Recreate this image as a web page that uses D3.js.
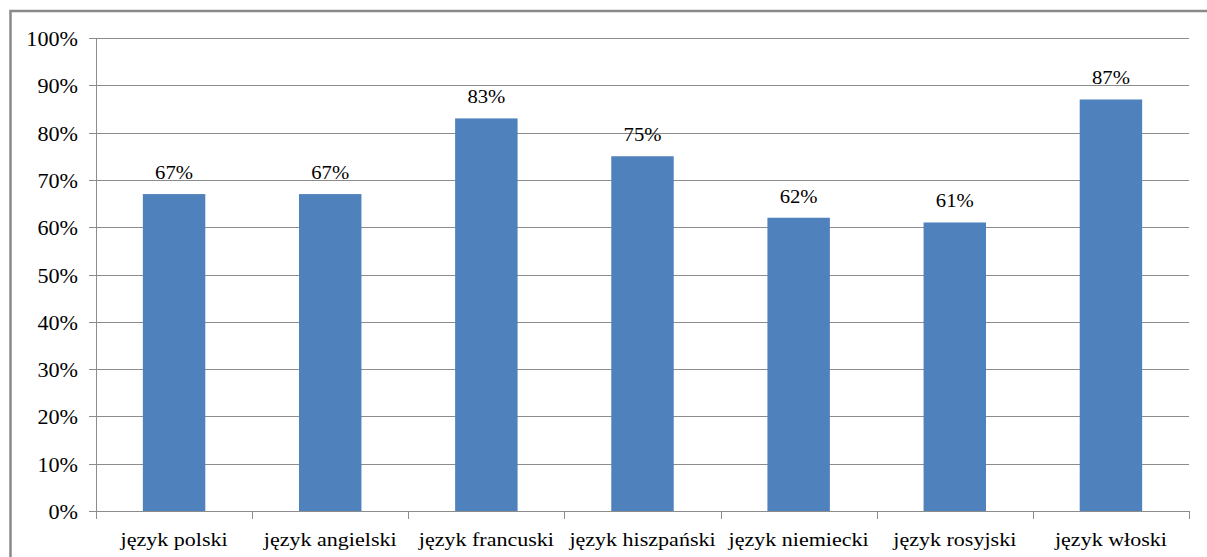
<!DOCTYPE html>
<html>
<head>
<meta charset="utf-8">
<script src="https://cdn.jsdelivr.net/npm/d3@7"></script>
<style>
  body { margin: 0; background: #fff; }
  svg { display: block; font-family: "Liberation Serif", "Times New Roman", serif; }
</style>
</head>
<body>
<svg width="1207" height="557"></svg>
<script>
const categories = ["język polski", "język angielski", "język francuski", "język hiszpański", "język niemiecki", "język rosyjski", "język włoski"];
const values = [67, 67, 83, 75, 62, 61, 87];
const yTicks = [0, 10, 20, 30, 40, 50, 60, 70, 80, 90, 100];

const svg = d3.select("svg");

// outer chart frame (right and bottom edges fall outside the picture)
svg.append("rect")
    .attr("x", 10.5).attr("y", 11)
    .attr("width", 1210).attr("height", 560)
    .attr("fill", "none")
    .attr("stroke", "#898989")
    .attr("stroke-width", 2.5);

const plotLeft = 96, plotRight = 1189, plotTop = 38, plotBottom = 511;

const x = d3.scaleBand().domain(categories).range([plotLeft, plotRight]).paddingInner(0.6).paddingOuter(0.3);
const xb = d3.scaleBand().domain(categories).range([plotLeft, plotRight]);
const y = d3.scaleLinear().domain([0, 100]).range([plotBottom, plotTop]);

// the source picture is stretched sideways, so text gets a horizontal scale
const stretched = (sel, px, py, sx) =>
    sel.attr("transform", (d, i) => `translate(${px(d, i)},${py(d, i)}) scale(${sx},1)`);

// gridlines
svg.append("g").selectAll("line").data(yTicks)
    .enter().append("line")
    .attr("x1", plotLeft - 7).attr("x2", plotRight)
    .attr("y1", d => Math.round(y(d)) + 0.5)
    .attr("y2", d => Math.round(y(d)) + 0.5)
    .attr("stroke", "#8c8c8c")
    .attr("stroke-width", 1);

// y axis line
svg.append("line")
    .attr("x1", plotLeft + 0.5).attr("x2", plotLeft + 0.5)
    .attr("y1", plotTop).attr("y2", plotBottom + 0.5)
    .attr("stroke", "#8c8c8c");

// y tick labels
svg.append("g").selectAll("text").data(yTicks)
    .enter().append("text")
    .call(stretched, () => 78, d => y(d) + 8, 1.08)
    .attr("text-anchor", "end")
    .attr("font-size", 20.5)
    .attr("fill", "#000")
    .text(d => d + "%");

// x ticks at category boundaries
const boundaries = categories.map(c => xb(c)).concat([plotRight]);
svg.append("g").selectAll("line").data(boundaries)
    .enter().append("line")
    .attr("x1", d => Math.round(d) + 0.5).attr("x2", d => Math.round(d) + 0.5)
    .attr("y1", plotBottom).attr("y2", plotBottom + 8)
    .attr("stroke", "#8c8c8c");

// bars
svg.append("g").selectAll("rect").data(values)
    .enter().append("rect")
    .attr("x", (d, i) => x(categories[i]))
    .attr("width", x.bandwidth())
    .attr("y", d => y(d))
    .attr("height", d => plotBottom - y(d))
    .attr("fill", "#4f81bd");

// value labels
svg.append("g").selectAll("text").data(values)
    .enter().append("text")
    .call(stretched, (d, i) => x(categories[i]) + x.bandwidth() / 2, d => y(d) - 15, 1.12)
    .attr("text-anchor", "middle")
    .attr("font-size", 18.5)
    .attr("fill", "#000")
    .text(d => d + "%");

// category labels
svg.append("g").selectAll("text").data(categories)
    .enter().append("text")
    .call(stretched, d => xb(d) + xb.bandwidth() / 2, () => 546, 1.13)
    .attr("text-anchor", "middle")
    .attr("font-size", 19.5)
    .attr("fill", "#000")
    .text(d => d);
</script>
</body>
</html>
